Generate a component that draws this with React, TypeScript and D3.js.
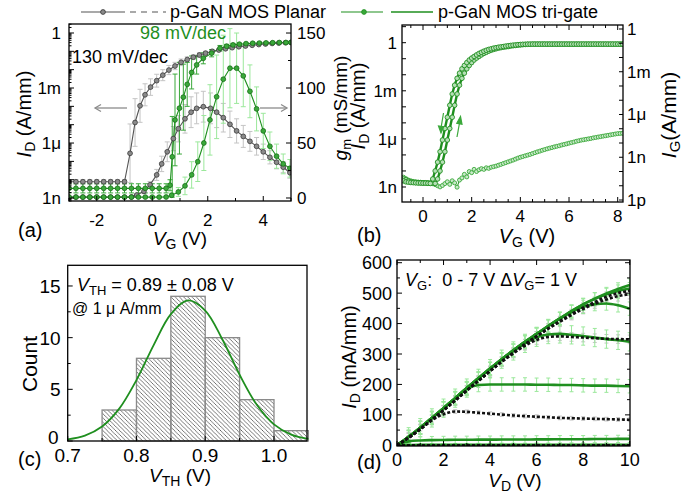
import React from "react";
import * as d3 from "d3";

const FONT = "'Liberation Sans', Arial, Helvetica, sans-serif";
const GREEN = "#1f8f1f";
const LGREEN = "#9be89b";
const MGREEN = "#3aa83a";
const GRAY_LINE = "#555";
const GRAY_ERR = "#c4c4c4";

// ---------------- Panel (a): transfer + gm ----------------
// [VG (V), log10 ID (A/mm), error (decades)]
const planarId: number[][] = [
  [-3, -8.11, 0.12], [-2.75, -8.11, 0.12], [-2.5, -8.11, 0.12], [-2.25, -8.11, 0.12], [-2, -8.11, 0.12],
  [-1.75, -8.11, 0.12], [-1.5, -8.11, 0.12], [-1.25, -8.11, 0.12], [-1.0, -8.11, 0.12],
  [-0.8, -6.56, 1.6], [-0.62, -4.88, 1.3], [-0.44, -3.97, 0.9], [-0.26, -3.37, 0.6], [-0.06, -2.95, 0.45],
  [0.16, -2.6, 0.35], [0.38, -2.3, 0.3], [0.6, -2.02, 0.25], [0.82, -1.8, 0.2], [1.04, -1.6, 0.18],
  [1.26, -1.45, 0.15], [1.48, -1.32, 0.13], [1.7, -1.2, 0.12], [1.92, -1.1, 0.1], [2.16, -1.0, 0.09],
  [2.4, -0.93, 0.08], [2.64, -0.86, 0.07], [2.88, -0.8, 0.06], [3.12, -0.75, 0.05], [3.36, -0.71, 0.05],
  [3.6, -0.67, 0.05], [3.84, -0.63, 0.05], [4.08, -0.6, 0.05], [4.32, -0.57, 0.05], [4.56, -0.55, 0.05],
  [4.8, -0.53, 0.05], [5.0, -0.52, 0.05],
];
const trigateId: number[][] = [
  [-3, -8.47, 0.25], [-2.75, -8.47, 0.25], [-2.5, -8.47, 0.25], [-2.25, -8.47, 0.25], [-2, -8.47, 0.25],
  [-1.75, -8.47, 0.25], [-1.5, -8.47, 0.25], [-1.25, -8.47, 0.25], [-1, -8.47, 0.25], [-0.75, -8.47, 0.25],
  [-0.5, -8.47, 0.25], [-0.25, -8.47, 0.25], [0, -8.47, 0.25], [0.25, -8.47, 0.25], [0.5, -8.47, 0.25],
  [0.64, -8.3, 0.3], [0.72, -6.75, 2.2], [0.82, -4.74, 2.5], [0.98, -4.1, 2.5], [1.12, -3.5, 1.8],
  [1.26, -2.8, 1.2], [1.42, -2.15, 0.9], [1.6, -1.74, 0.5], [1.84, -1.38, 0.3], [2.14, -1.1, 0.2],
  [2.44, -0.83, 0.15], [2.68, -0.72, 0.1], [2.91, -0.65, 0.08], [3.14, -0.61, 0.05], [3.38, -0.58, 0.05],
  [3.62, -0.56, 0.05], [3.86, -0.55, 0.05], [4.1, -0.54, 0.05], [4.34, -0.53, 0.05], [4.58, -0.52, 0.05],
  [4.82, -0.52, 0.05], [5.0, -0.51, 0.05],
];
// [VG (V), gm (mS/mm), error]
const planarGm: number[][] = [
  [-3, 0.8, 0.5], [-2.75, 0.8, 0.5], [-2.5, 0.8, 0.5], [-2.25, 0.8, 0.5], [-2, 0.8, 0.5], [-1.75, 0.8, 0.5],
  [-1.5, 0.8, 0.5], [-1.25, 0.8, 0.5], [-1, 0.8, 0.5], [-0.75, 0.9, 0.5],
  [-0.56, 2.7, 1], [-0.3, 6, 2], [-0.08, 12, 3], [0.16, 21, 5], [0.34, 31, 7], [0.54, 42, 9], [0.76, 54, 11],
  [0.94, 63, 12], [1.18, 72, 13], [1.4, 78, 14], [1.6, 81.5, 14], [1.84, 83, 14], [2.1, 81.5, 14],
  [2.32, 78, 14], [2.56, 73, 13], [2.8, 67, 12], [3.04, 61, 11], [3.28, 56, 10], [3.52, 51.5, 9],
  [3.76, 47, 8], [4.0, 42, 7], [4.24, 37, 6], [4.48, 32.5, 6], [4.72, 28, 5], [4.96, 23, 5],
];
const trigateGm: number[][] = [
  [-3, 0.8, 0.8], [-2.75, 0.8, 0.8], [-2.5, 0.8, 0.8], [-2.25, 0.8, 0.8], [-2, 0.8, 0.8], [-1.75, 0.8, 0.8],
  [-1.5, 0.8, 0.8], [-1.25, 0.8, 0.8], [-1, 0.8, 0.8], [-0.75, 0.8, 0.8], [-0.5, 0.8, 0.8], [-0.25, 0.8, 0.8],
  [0, 0.8, 0.8], [0.25, 0.8, 0.8], [0.5, 0.9, 0.8],
  [0.7, 2.5, 2], [0.94, 5.5, 4], [1.18, 11, 8], [1.42, 21, 12], [1.64, 33, 18], [1.86, 50, 25],
  [2.08, 71, 32], [2.32, 92, 38], [2.56, 108, 40], [2.8, 118, 36], [3.04, 118, 32], [3.28, 111, 28],
  [3.52, 97, 24], [3.76, 81, 20], [4.0, 61, 16], [4.24, 47, 13], [4.48, 38, 11], [4.72, 31, 9], [4.96, 27, 8],
];
const aXTicks = [-2, 0, 2, 4];
const aXMinor = [-3, -1, 1, 3, 5];
const aLeftLabels: [number, string][] = [[0, "1"], [-3, "1m"], [-6, "1μ"], [-9, "1n"]];
const aRightTicks = [0, 50, 100, 150];
const aRightMinor = [25, 75, 125];

// ---------------- Panel (b): hysteresis + IG ----------------
const bVgStart = -0.8;
const bVgStep = 0.1;
const bIdUp = [
  -8.5, -8.55, -8.62, -8.68, -8.7, -8.72, -8.73, -8.74, -8.75, -8.75, -8.76, -8.76, -8.77, -8.78,
  -8.5, -8.0, -7.45, -6.8, -6.07, -5.35, -4.65, -3.9, -3.2, -2.65, -2.22, -1.9, -1.63, -1.42, -1.24, -1.08,
  -0.96, -0.86, -0.76, -0.67, -0.6, -0.53, -0.47, -0.42, -0.38, -0.34, -0.31, -0.28, -0.26, -0.24, -0.21,
  -0.19, -0.17, -0.15, -0.14, -0.12, -0.11, -0.1, -0.1,
  -0.09, -0.09, -0.09, -0.09, -0.09, -0.09, -0.09, -0.09, -0.09, -0.09, -0.09, -0.09, -0.09, -0.09, -0.09,
  -0.09, -0.09, -0.09, -0.09, -0.09, -0.09, -0.09, -0.09, -0.09, -0.09, -0.09, -0.09, -0.09, -0.09, -0.09,
  -0.09, -0.09, -0.09, -0.09, -0.09, -0.09, -0.09, -0.09,
];
const bIdDown = [
  -8.62, -8.68, -8.7, -8.72, -8.73, -8.74, -8.75, -8.75, -8.76, -8.76, -8.77, -8.78,
  -8.5, -8.0, -7.45, -6.8, -6.07, -5.35, -4.65, -3.9, -3.2, -2.65, -2.22, -1.9, -1.63, -1.42, -1.24, -1.08,
  -0.96, -0.86, -0.76, -0.67, -0.6, -0.53, -0.47, -0.42, -0.38, -0.34, -0.31, -0.28, -0.26, -0.24, -0.21,
  -0.19, -0.17, -0.15, -0.14, -0.12, -0.11, -0.1, -0.1,
  -0.09, -0.09, -0.09, -0.09, -0.09, -0.09, -0.09, -0.09, -0.09, -0.09, -0.09, -0.09, -0.09, -0.09, -0.09,
  -0.09, -0.09, -0.09, -0.09, -0.09, -0.09, -0.09, -0.09, -0.09, -0.09, -0.09, -0.09, -0.09, -0.09, -0.09,
  -0.09, -0.09, -0.09, -0.09, -0.09, -0.09, -0.09, -0.09, -0.09, -0.09,
];
const bIg = [
  -10.4, -10.5, -10.6, -10.65, -10.7, -10.72, -10.74, -10.75, -10.76, -10.77, -10.78, -10.8, -10.85,
  -10.92, -11.0, -11.08, -10.98, -10.85, -10.72, -10.9, -10.65, -10.8, -11.1, -10.6, -10.45, -10.2,
  -10.38, -10.0, -10.08, -9.85, -10.0, -9.88, -9.8, -9.85, -9.74, -9.78, -9.7, -9.66, -9.62, -9.56,
  -9.5, -9.44, -9.38, -9.32, -9.26, -9.2, -9.13, -9.06, -9.0, -8.95, -8.9, -8.85, -8.8, -8.74, -8.68,
  -8.62, -8.57, -8.51, -8.46, -8.41, -8.36, -8.32, -8.27, -8.23, -8.19, -8.14, -8.1, -8.06, -8.01,
  -7.97, -7.93, -7.88, -7.84, -7.8, -7.77, -7.74, -7.71, -7.68, -7.64, -7.61, -7.58, -7.55, -7.52,
  -7.49, -7.46, -7.43, -7.4, -7.37, -7.34, -7.33, -7.32,
];
const bXTicks = [0, 2, 4, 6, 8];
const bXMinor = [-0.5, 0.5, 1, 1.5, 2.5, 3, 3.5, 4.5, 5, 5.5, 6.5, 7, 7.5];
const bLeftLabels: [number, string][] = [[0, "1"], [-3, "1m"], [-6, "1μ"], [-9, "1n"]];
const bRightLabels: [number, string][] = [[0, "1"], [-3, "1m"], [-6, "1μ"], [-9, "1n"], [-12, "1p"]];

// ---------------- Panel (c): histogram ----------------
const binEdges = [0.75, 0.8, 0.85, 0.9, 0.95, 1.0, 1.05];
const binCounts = [3, 8, 14, 10, 4, 1];
const fitX = [0.7, 0.725, 0.75, 0.775, 0.8, 0.825, 0.85, 0.875, 0.9, 0.925, 0.95, 0.975, 1.0, 1.025, 1.05];
const fitY = [0.16, 0.52, 1.4, 3.13, 5.89, 9.28, 12.27, 13.6, 12.62, 9.82, 6.41, 3.5, 1.61, 0.62, 0.2];
const cXTicks = [0.7, 0.8, 0.9, 1.0];
const cXLabels = ["0.7", "0.8", "0.9", "1.0"];
const cXMinor = [0.75, 0.85, 0.95];
const cYTicks = [0, 5, 10, 15];
const cYMinor = [2.5, 7.5, 12.5];

// ---------------- Panel (d): output curves ----------------
const vdStart = 0;
const vdStep = 0.5;
const trigateOut: number[][] = [
  [0, 0, 0, 0, 0, 0, 0, 0, 0, 0, 0, 0, 0, 0, 0, 0, 0, 0, 0, 0, 0],
  [0, 1, 1.5, 2, 2, 2, 2, 2, 2, 2, 2, 2, 2, 2, 2, 2, 2, 2, 2, 2, 2],
  [0, 13, 16, 17, 17.5, 18, 18, 18.5, 18.5, 19, 19, 19, 19.5, 19.5, 20, 20, 20, 20.5, 20.5, 21, 21],
  [0, 28, 58, 90, 122, 155, 185, 198, 200, 200, 200, 200, 199, 199, 198, 198, 197, 196, 196, 195, 194],
  [0, 28, 58, 90, 122, 155, 188, 220, 252, 283, 310, 335, 355, 364, 366, 363, 359, 354, 349, 345, 340],
  [0, 28, 58, 90, 122, 155, 188, 220, 252, 283, 312, 340, 366, 392, 416, 438, 455, 464, 466, 460, 449],
  [0, 28, 58, 90, 122, 155, 188, 220, 252, 283, 312, 340, 366, 392, 417, 441, 463, 481, 496, 507, 515],
  [0, 28, 58, 90, 122, 155, 188, 220, 252, 283, 312, 340, 366, 392, 417, 441, 463, 482, 499, 514, 527],
];
const trigateOutErr = [0, 0, 12, 22, 30, 22, 20, 20];
const planarOut: number[][] = [
  [0, 0, 0, 0, 0, 0, 0, 0, 0, 0, 0, 0, 0, 0, 0, 0, 0, 0, 0, 0, 0],
  [0, 25, 53, 82, 102, 111, 110, 107, 104, 101, 98, 96, 94, 92, 90, 89, 88, 87, 86, 85, 84],
  [0, 25, 53, 84, 115, 147, 180, 212, 244, 274, 302, 327, 346, 356, 358, 356, 354, 352, 350, 349, 348],
  [0, 25, 53, 84, 115, 147, 180, 212, 244, 275, 304, 332, 358, 383, 406, 428, 448, 465, 479, 490, 497],
  [0, 25, 53, 84, 115, 147, 180, 212, 244, 275, 304, 332, 358, 384, 408, 431, 452, 471, 488, 500, 508],
];
const planarOutErr = [0, 6, 14, 16, 16];
const dXTicks = [0, 2, 4, 6, 8, 10];
const dXMinor = [1, 3, 5, 7, 9];
const dYTicks = [0, 100, 200, 300, 400, 500, 600];
const dYMinor = [50, 150, 250, 350, 450, 550];

// ---------------- helpers ----------------
const vTicks = (x: number, ys: number[], len: number, dir: number) =>
  ys.map((y, i) => <line key={i} x1={x} x2={x + dir * len} y1={y} y2={y} />);
const hTicks = (y: number, xs: number[], len: number, dir: number) =>
  xs.map((x, i) => <line key={i} x1={x} x2={x} y1={y} y2={y + dir * len} />);

function logMinor(lo: number, hi: number): number[] {
  const out: number[] = [];
  for (let d = Math.floor(lo); d <= Math.ceil(hi); d++) {
    for (let k = 2; k <= 9; k++) {
      const v = d + Math.log10(k);
      if (v > lo && v < hi) out.push(v);
    }
  }
  return out;
}
function decades(lo: number, hi: number): number[] {
  const out: number[] = [];
  for (let d = Math.ceil(lo); d <= Math.floor(hi); d++) out.push(d);
  return out;
}

function ErrBars({ data, x, y, color, cap = 2.5, w = 1 }: any) {
  return (
    <g stroke={color} strokeWidth={w} fill="none">
      {data.map((d: number[], i: number) => {
        const px = x(d[0]);
        const y1 = y(d[1] - d[2]);
        const y2 = y(d[1] + d[2]);
        return (
          <g key={i}>
            <line x1={px} x2={px} y1={y1} y2={y2} />
            <line x1={px - cap} x2={px + cap} y1={y1} y2={y1} />
            <line x1={px - cap} x2={px + cap} y1={y2} y2={y2} />
          </g>
        );
      })}
    </g>
  );
}

function Dots({ data, x, y, r, fill, stroke, sw = 0.8 }: any) {
  return (
    <g fill={fill} stroke={stroke} strokeWidth={sw}>
      {data.map((d: number[], i: number) => (
        <circle key={i} cx={x(d[0])} cy={y(d[1])} r={r} />
      ))}
    </g>
  );
}

export default function App() {
  // ---- scales
  const A = { l: 69, r: 291, t: 24, b: 201 };
  const ax = d3.scaleLinear().domain([-3, 5]).range([A.l, A.r]);
  const ayLog = d3.scaleLog().domain([Math.pow(10, -9.16), Math.pow(10, 0.49)]).range([A.b, A.t]);
  const ayL = (e: number) => ayLog(Math.pow(10, e));
  const ayR = d3.scaleLinear().domain([-2.73, 158.2]).range([A.b, A.t]);

  const B = { l: 402, r: 623, t: 25, b: 202 };
  const bx = d3.scaleLinear().domain([-0.863, 8.218]).range([B.l, B.r]);
  const byLog = d3.scaleLog().domain([Math.pow(10, -9.936), Math.pow(10, 1.104)]).range([B.b, B.t]);
  const byL = (e: number) => byLog(Math.pow(10, e));
  const byRLog = d3.scaleLog().domain([Math.pow(10, -12.14), Math.pow(10, 0.28)]).range([B.b, B.t]);
  const byR = (e: number) => byRLog(Math.pow(10, e));

  const C = { l: 67.7, r: 307, t: 265.3, b: 441 };
  const cx = d3.scaleLinear().domain([0.7, 1.048]).range([C.l, C.r]);
  const cy = d3.scaleLinear().domain([0, 17]).range([C.b, C.t]);

  const D = { l: 397, r: 630, t: 260, b: 446 };
  const dx = d3.scaleLinear().domain([0, 10.013]).range([D.l, D.r]);
  const dy = d3.scaleLinear().domain([-2.3, 608.9]).range([D.b, D.t]);

  // ---- line generators
  const lineA = d3.line<number[]>().x((d) => ax(d[0])).y((d) => ayL(d[1]));
  const lineAR = d3.line<number[]>().x((d) => ax(d[0])).y((d) => ayR(d[1]));
  const toPts = (arr: number[]) => arr.map((v, i) => [bVgStart + i * bVgStep, v]);
  const upPts = toPts(bIdUp);
  const downPts = toPts(bIdDown);
  const igPts = toPts(bIg);
  const lineBL = d3.line<number[]>().x((d) => bx(d[0])).y((d) => byL(d[1]));
  const lineBR = d3.line<number[]>().x((d) => bx(d[0])).y((d) => byR(d[1]));
  const fitLine = d3
    .line<number>()
    .x((_, i) => cx(fitX[i]))
    .y((d) => cy(d))
    .curve(d3.curveCatmullRom);
  const lineD = d3
    .line<number>()
    .x((_, i) => dx(vdStart + i * vdStep))
    .y((d) => dy(d))
    .curve(d3.curveMonotoneX);

  const fs = 17;

  return (
    <svg
      width={694}
      height={493}
      style={{ position: "absolute", left: 0, top: 0, background: "#fff" }}
      fontFamily={FONT}
    >
      <defs>
        <clipPath id="clipA">
          <rect x={A.l} y={A.t} width={A.r - A.l} height={A.b - A.t} />
        </clipPath>
        <clipPath id="clipB">
          <rect x={B.l} y={B.t} width={B.r - B.l} height={B.b - B.t} />
        </clipPath>
        <clipPath id="clipD">
          <rect x={D.l} y={D.t} width={D.r - D.l} height={D.b - D.t} />
        </clipPath>
        <pattern id="hatch" patternUnits="userSpaceOnUse" width={4.2} height={4.2}>
          <path d="M-1,-1 L5.2,5.2 M3.2,-1 L5.2,1 M-1,3.2 L1,5.2" stroke="#555" strokeWidth={0.8} />
        </pattern>
      </defs>

      {/* ---------- Legend ---------- */}
      <g>
        <line x1={81} x2={125} y1={12} y2={12} stroke={GRAY_LINE} strokeWidth={1.2} />
        <circle cx={103} cy={12} r={2.4} fill="#8a8a8a" stroke="#333" strokeWidth={0.8} />
        <line x1={130} x2={166} y1={12} y2={12} stroke={GRAY_LINE} strokeWidth={1.2} strokeDasharray="6 5" />
        <text x={170} y={18} fontSize={18}>p-GaN MOS Planar</text>
        <line x1={341} x2={383} y1={12} y2={12} stroke={GREEN} strokeWidth={1.2} />
        <circle cx={364} cy={12} r={2.4} fill={MGREEN} stroke={GREEN} strokeWidth={0.8} />
        <line x1={391} x2={433} y1={12} y2={12} stroke={GREEN} strokeWidth={1.4} />
        <text x={438} y={18} fontSize={18}>p-GaN MOS tri-gate</text>
      </g>

      {/* ---------- Panel (a) ---------- */}
      <g clipPath="url(#clipA)">
        <ErrBars data={planarId} x={ax} y={ayL} color={GRAY_ERR} />
        <ErrBars data={planarGm} x={ax} y={ayR} color={GRAY_ERR} />
        <ErrBars data={trigateGm} x={ax} y={ayR} color={LGREEN} />
        <ErrBars data={trigateId} x={ax} y={ayL} color={MGREEN} />
        <path d={lineA(planarId) || ""} fill="none" stroke={GRAY_LINE} strokeWidth={1.1} />
        <path d={lineAR(planarGm) || ""} fill="none" stroke={GRAY_LINE} strokeWidth={1.1} />
        <path d={lineA(trigateId) || ""} fill="none" stroke={GREEN} strokeWidth={1.1} />
        <path d={lineAR(trigateGm) || ""} fill="none" stroke={GREEN} strokeWidth={1.1} />
        <Dots data={planarId} x={ax} y={ayL} r={2.4} fill="#8a8a8a" stroke="#3a3a3a" />
        <Dots data={planarGm} x={ax} y={ayR} r={2.4} fill="#8a8a8a" stroke="#3a3a3a" />
        <Dots data={trigateId} x={ax} y={ayL} r={2.4} fill={MGREEN} stroke="#176f17" />
        <Dots data={trigateGm} x={ax} y={ayR} r={2.4} fill={MGREEN} stroke="#176f17" />
      </g>
      {/* arrows */}
      <g stroke="#8c8c8c" strokeWidth={1.3} fill="none">
        <line x1={127} x2={95} y1={108} y2={108} />
        <polyline points="101,104.5 95,108 101,111.5" />
        <line x1={260} x2={287} y1={108} y2={108} />
        <polyline points="281,104.5 287,108 281,111.5" />
      </g>
      <text x={140} y={39} fontSize={18} fill={GREEN}>98 mV/dec</text>
      <text x={72} y={63} fontSize={18}>130 mV/dec</text>
      <rect x={A.l} y={A.t} width={A.r - A.l} height={A.b - A.t} fill="none" stroke="#000" strokeWidth={1.3} />
      <g stroke="#000" strokeWidth={1}>
        {vTicks(A.l, decades(-9.16, 0.49).map(ayL), 5, 1)}
        {vTicks(A.l, logMinor(-9.16, 0.49).map(ayL), 2.5, 1)}
        {vTicks(A.r, aRightTicks.map(ayR), 5, -1)}
        {vTicks(A.r, aRightMinor.map(ayR), 3, -1)}
        {hTicks(A.b, aXTicks.map(ax), 5, -1)}
        {hTicks(A.b, aXMinor.map(ax), 3, -1)}
      </g>
      <g fontSize={fs}>
        {aLeftLabels.map(([e, s]) => (
          <text key={s} x={A.l - 8} y={ayL(e) + 6} textAnchor="end">{s}</text>
        ))}
        {aRightTicks.map((v) => (
          <text key={v} x={A.r + 6} y={ayR(v) + 6}>{v}</text>
        ))}
        {aXTicks.map((v) => (
          <text key={v} x={ax(v)} y={226} textAnchor="middle">{v}</text>
        ))}
      </g>
      <text transform="translate(31,114) rotate(-90)" textAnchor="middle" fontSize={20}>
        <tspan fontStyle="italic">I</tspan>
        <tspan fontSize={14} dy={4}>D</tspan>
        <tspan dy={-4}> (A/mm)</tspan>
      </text>
      <text x={180} y={245} textAnchor="middle" fontSize={19}>
        <tspan fontStyle="italic">V</tspan>
        <tspan fontSize={14} dy={4}>G</tspan>
        <tspan dy={-4}> (V)</tspan>
      </text>
      <text x={18} y={237} fontSize={20}>(a)</text>

      {/* ---------- Panel (b) ---------- */}
      <g clipPath="url(#clipB)">
        <path d={lineBR(igPts) || ""} fill="none" stroke={GREEN} strokeWidth={1} />
        <Dots data={igPts} x={bx} y={byR} r={2} fill="#c9e9c9" stroke={MGREEN} sw={0.9} />
        <path d={lineBL(upPts) || ""} fill="none" stroke={GREEN} strokeWidth={2.4} />
        <path d={lineBL(downPts) || ""} fill="none" stroke={GREEN} strokeWidth={2.4} />
        <Dots data={upPts} x={bx} y={byL} r={2.3} fill="#b5dfb5" stroke={GREEN} sw={0.9} />
        <Dots data={downPts} x={bx} y={byL} r={2.3} fill="#b5dfb5" stroke={GREEN} sw={0.9} />
      </g>
      <g stroke={MGREEN} strokeWidth={1.2} fill={MGREEN}>
        <line x1={443.5} y1={113} x2={441.2} y2={127} />
        <polygon points="438.5,126 441,133 443.8,126.8" />
        <line x1={457} y1={137} x2={459.5} y2={123} />
        <polygon points="456.8,123.3 460.5,116.5 462,124.2" />
      </g>
      <rect x={B.l} y={B.t} width={B.r - B.l} height={B.b - B.t} fill="none" stroke="#000" strokeWidth={1.3} />
      <g stroke="#000" strokeWidth={1}>
        {vTicks(B.l, decades(-9.936, 1.104).map(byL), 4, 1)}
        {vTicks(B.r, decades(-12.14, 0.28).map(byR), 4, -1)}
        {hTicks(B.b, bXTicks.map(bx), 5, -1)}
        {hTicks(B.b, bXMinor.map(bx), 3, -1)}
        {hTicks(B.t, bXTicks.map(bx), 5, 1)}
        {hTicks(B.t, bXMinor.map(bx), 3, 1)}
      </g>
      <g fontSize={fs}>
        {bLeftLabels.map(([e, s]) => (
          <text key={s} x={B.l - 5} y={byL(e) + 6} textAnchor="end">{s}</text>
        ))}
        {bRightLabels.map(([e, s]) => (
          <text key={s} x={B.r + 4} y={byR(e) + 6}>{s}</text>
        ))}
        {bXTicks.map((v) => (
          <text key={v} x={bx(v)} y={222} textAnchor="middle">{v}</text>
        ))}
      </g>
      <text transform="translate(347,108) rotate(-90)" textAnchor="middle" fontSize={19}>
        <tspan fontStyle="italic">g</tspan>
        <tspan fontSize={13} dy={4}>m</tspan>
        <tspan dy={-4}> (mS/mm)</tspan>
      </text>
      <text transform="translate(365,106) rotate(-90)" textAnchor="middle" fontSize={20}>
        <tspan fontStyle="italic">I</tspan>
        <tspan fontSize={14} dy={4}>D</tspan>
        <tspan dy={-4}> (A/mm)</tspan>
      </text>
      <text transform="translate(676,115) rotate(-90)" textAnchor="middle" fontSize={21}>
        <tspan fontStyle="italic">I</tspan>
        <tspan fontSize={15} dy={4}>G</tspan>
        <tspan dy={-4}>(A/mm)</tspan>
      </text>
      <text x={527} y={243} textAnchor="middle" fontSize={20}>
        <tspan fontStyle="italic">V</tspan>
        <tspan fontSize={14} dy={4}>G</tspan>
        <tspan dy={-4}> (V)</tspan>
      </text>
      <text x={357} y={242} fontSize={20}>(b)</text>

      {/* ---------- Panel (c) ---------- */}
      <g>
        {binCounts.map((c, i) => (
          <rect
            key={i}
            x={cx(binEdges[i])}
            y={cy(c)}
            width={cx(binEdges[i + 1]) - cx(binEdges[i])}
            height={cy(0) - cy(c)}
            fill="url(#hatch)"
            stroke="#8a8a8a"
            strokeWidth={1.3}
          />
        ))}
        <path d={fitLine(fitY) || ""} fill="none" stroke={GREEN} strokeWidth={1.8} />
      </g>
      <rect x={C.l} y={C.t} width={C.r - C.l} height={C.b - C.t} fill="none" stroke="#000" strokeWidth={1.3} />
      <g stroke="#000" strokeWidth={1}>
        {vTicks(C.l, cYTicks.map(cy), 5, 1)}
        {vTicks(C.l, cYMinor.map(cy), 3, 1)}
        {hTicks(C.b, cXTicks.map(cx), 5, -1)}
        {hTicks(C.b, cXMinor.map(cx), 3, -1)}
      </g>
      <g fontSize={19}>
        {cYTicks.map((v) => (
          <text key={v} x={C.l - (v === 0 ? 9 : 7)} y={cy(v) + (v === 0 ? 3 : 7)} textAnchor="end">{v}</text>
        ))}
        {cXTicks.map((v, i) => (
          <text key={v} x={cx(v)} y={462} textAnchor="middle">{cXLabels[i]}</text>
        ))}
      </g>
      <text x={77} y={291} fontSize={18}>
        <tspan fontStyle="italic">V</tspan>
        <tspan fontSize={13} dy={4}>TH</tspan>
        <tspan dy={-4}> = 0.89 ± 0.08 V</tspan>
      </text>
      <text x={72} y={314} fontSize={16}>@ 1 μ A/mm</text>
      <text transform="translate(37,364) rotate(-90)" textAnchor="middle" fontSize={21}>Count</text>
      <text x={180} y={482} textAnchor="middle" fontSize={19}>
        <tspan fontStyle="italic">V</tspan>
        <tspan fontSize={14} dy={4}>TH</tspan>
        <tspan dy={-4}> (V)</tspan>
      </text>
      <text x={18} y={466} fontSize={20}>(c)</text>

      {/* ---------- Panel (d) ---------- */}
      <g clipPath="url(#clipD)">
        {planarOut.map((row, k) => (
          <ErrBars
            key={"pe" + k}
            data={row.map((v, i) => [vdStart + i * vdStep, v, planarOutErr[k]]).filter((_, i) => i > 0)}
            x={dx}
            y={dy}
            color={GRAY_ERR}
            cap={2}
          />
        ))}
        {trigateOut.map((row, k) => (
          <ErrBars
            key={"te" + k}
            data={row.map((v, i) => [vdStart + i * vdStep, v, trigateOutErr[k]]).filter((_, i) => i > 0)}
            x={dx}
            y={dy}
            color={LGREEN}
            cap={2}
          />
        ))}
        {trigateOut.map((row, k) => (
          <path key={"t" + k} d={lineD(row) || ""} fill="none" stroke={GREEN} strokeWidth={2.6} />
        ))}
        {planarOut.map((row, k) => (
          <path
            key={"p" + k}
            d={lineD(row) || ""}
            fill="none"
            stroke="#111"
            strokeWidth={2.6}
            strokeDasharray="3 2"
          />
        ))}
      </g>
      <rect x={D.l} y={D.t} width={D.r - D.l} height={D.b - D.t} fill="none" stroke="#000" strokeWidth={1.3} />
      <g stroke="#000" strokeWidth={1}>
        {vTicks(D.l, dYTicks.map(dy), 5, 1)}
        {vTicks(D.l, dYMinor.map(dy), 3, 1)}
        {vTicks(D.r, dYTicks.map(dy), 5, -1)}
        {vTicks(D.r, dYMinor.map(dy), 3, -1)}
        {hTicks(D.b, dXTicks.map(dx), 5, -1)}
        {hTicks(D.b, dXMinor.map(dx), 3, -1)}
        {hTicks(D.t, dXTicks.map(dx), 5, 1)}
        {hTicks(D.t, dXMinor.map(dx), 3, 1)}
      </g>
      <g fontSize={18}>
        {dYTicks.map((v) => (
          <text key={v} x={D.l - 5} y={dy(v) + 6.5} textAnchor="end">{v}</text>
        ))}
        {dXTicks.map((v) => (
          <text key={v} x={dx(v)} y={466} textAnchor="middle">{v}</text>
        ))}
      </g>
      <text x={405} y={286} fontSize={18}>
        <tspan fontStyle="italic">V</tspan>
        <tspan fontSize={13} dy={4}>G</tspan>
        <tspan dy={-4}>:{"\u00a0\u00a0"}0 - 7 V Δ</tspan>
        <tspan fontStyle="italic">V</tspan>
        <tspan fontSize={13} dy={4}>G</tspan>
        <tspan dy={-4}>= 1 V</tspan>
      </text>
      <text transform="translate(356,357) rotate(-90)" textAnchor="middle" fontSize={20}>
        <tspan fontStyle="italic">I</tspan>
        <tspan fontSize={14} dy={4}>D</tspan>
        <tspan dy={-4}> (mA/mm)</tspan>
      </text>
      <text x={515} y={487} textAnchor="middle" fontSize={19}>
        <tspan fontStyle="italic">V</tspan>
        <tspan fontSize={14} dy={4}>D</tspan>
        <tspan dy={-4}> (V)</tspan>
      </text>
      <text x={357} y={469} fontSize={20}>(d)</text>
    </svg>
  );
}
